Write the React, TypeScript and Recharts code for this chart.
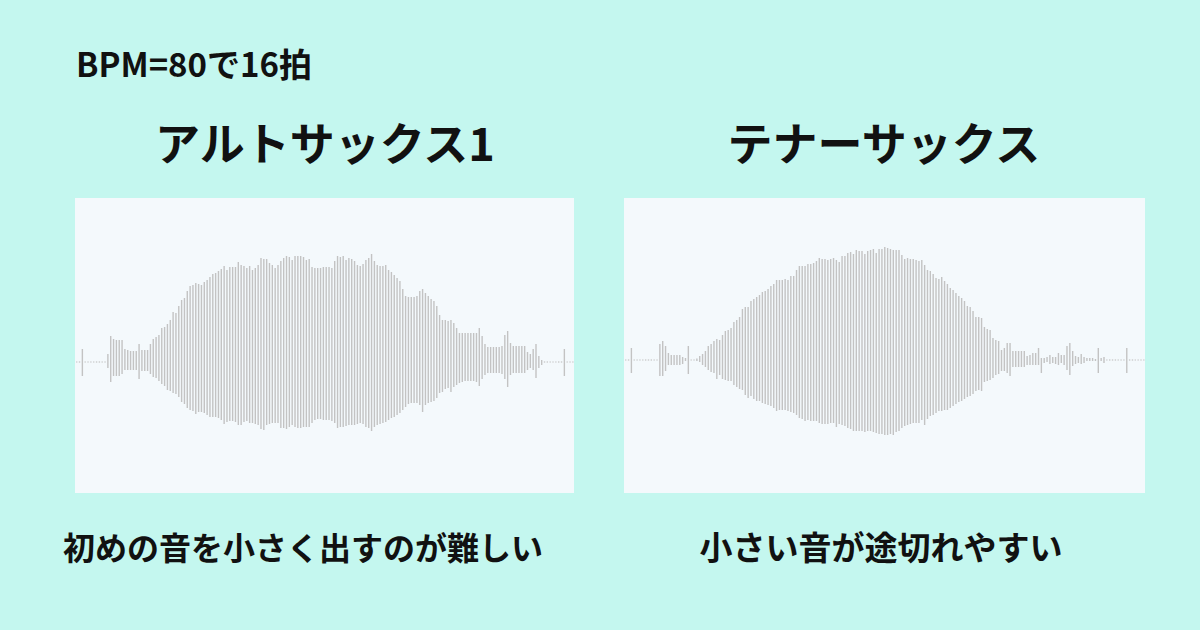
import { BarChart, Bar, XAxis, YAxis } from 'recharts';

// amplitudes in px above / below the centre line, one value per slot (~2.84px)
const ALTO_LEAD_UP = [0.6, 0.6, 13, 0.6, 0.6, 0.6, 0.6, 0.6, 0.6, 0.6, 0.6];
const ALTO_LEAD_DOWN = [0.6, 0.6, 14, 0.6, 0.6, 0.6, 0.6, 0.6, 0.6, 0.6, 0.6];

const ALTO_UP = [
  8, 26, 23, 22, 22, 22, 13, 12, 11, 11,
  11, 18, 12, 12, 12, 18, 23, 25, 27, 34,
  35, 38, 42, 50, 49, 56, 62, 64, 71, 76,
  77, 79, 78, 77, 80, 82, 85, 88, 89, 91,
  93, 96, 92, 95, 95, 95, 100, 97, 96, 94,
  96, 92, 94, 97, 104, 103, 103, 99, 97, 94,
  97, 101, 104, 106, 105, 102, 106, 106, 106, 105,
  102, 103, 95, 94, 94,
  94, 95, 95, 95, 94, 101, 106, 105, 106, 102,
  104, 103, 101, 97, 96, 98, 102, 104, 108, 101,
  97, 96, 96, 97, 92, 90, 87, 84, 81, 73,
  66, 65, 65, 65, 66, 71, 73, 69, 66, 63,
  61, 56, 47, 42, 42, 41, 42, 39, 34, 29,
  29, 29, 29, 29, 29, 29, 34, 26, 18, 15,
  15, 15, 15, 15, 16, 27, 31, 19, 16, 16,
  16, 16, 16, 10, 8, 13, 18, 6, 2,
];

const ALTO_DOWN = [
  6, 20, 14, 14, 14, 12, 8, 8, 8, 8,
  8, 17, 9, 9, 9, 12, 15, 16, 19, 22,
  24, 28, 29, 31, 32, 35, 40, 42, 46, 48,
  49, 52, 50, 50, 51, 53, 55, 55, 55, 56,
  58, 62, 60, 59, 59, 60, 63, 63, 60, 59,
  61, 61, 62, 63, 67, 68, 63, 62, 61, 61,
  61, 66, 66, 67, 65, 63, 65, 66, 66, 65,
  65, 65, 61, 58, 57, 57, 58, 58, 58, 59,
  61, 66, 65, 65, 64, 63, 63, 63, 62, 61,
  62, 65, 66, 69, 65, 63, 62, 61, 60, 58,
  56, 55, 53, 51, 48, 45, 42, 41, 41, 41,
  43, 50, 43, 41, 40, 39, 36, 31, 30, 27,
  26, 30, 25, 23, 21, 20, 19, 19, 19, 19,
  20, 24, 17, 13, 11, 11, 11, 11, 11, 12,
  17, 25, 13, 11, 11, 11, 11, 11, 8, 6,
  8, 16, 6, 3,
];

const ALTO_TRAIL_UP = [0.6, 0.6, 0.6, 0.6, 0.6, 0.6, 0.6, 13, 0.6, 0.6, 0.6];
const ALTO_TRAIL_DOWN = [0.6, 0.6, 0.6, 0.6, 0.6, 0.6, 0.6, 14, 0.6, 0.6, 0.6];

const TENOR_LEAD_UP = [0.6, 0.6, 12, 0.6, 0.6, 0.6, 0.6, 0.6, 0.6, 0.6, 0.6, 0.6];
const TENOR_LEAD_DOWN = [0.6, 0.6, 13, 0.6, 0.6, 0.6, 0.6, 0.6, 0.6, 0.6, 0.6, 0.6];

const TENOR_UP = [
  16, 19, 14, 7, 5, 5, 5, 5, 3, 2,
  14, 0.6, 0.6, 1.5, 4, 6, 9, 14, 16, 19,
  21, 20, 25, 29, 30, 32, 38, 40, 43, 51,
  53, 53, 59, 61, 63, 65, 68, 69, 71, 74,
  76, 80, 80, 80, 81, 80, 84, 84, 90, 94,
  94, 94, 96, 96, 97, 99, 102, 101, 101, 100,
  101, 102, 100, 98, 104, 104, 107, 108, 106, 110,
  109, 109, 106, 109, 110, 111, 107, 111, 111,
  113, 112, 111, 110, 110, 110, 105, 101, 102, 101,
  101, 100, 99, 100, 95, 90, 89, 86, 82, 81,
  83, 79, 76, 72, 70, 67, 64, 62, 59, 54,
  53, 49, 43, 43, 42, 33, 31, 30, 22, 20,
  19, 10, 12, 17, 17, 9, 9, 9, 9, 9,
  4, 5, 7, 7, 12, 2, 2, 3, 5, 3,
  3, 7, 5, 5, 14, 17, 9, 4, 3, 6,
  3, 2, 2, 2, 1, 12, 2, 3, 0.6, 0.6,
  0.6, 0.6, 0.6, 0.6, 0.6, 12, 0.6, 0.6, 0.6, 0.6,
  0.6, 0.6,
];

const TENOR_DOWN = [
  16, 16, 11, 5, 5, 5, 5, 5, 4, 1,
  14, 0.6, 0.6, 1, 2, 5, 7, 10, 12, 13,
  19, 15, 19, 20, 21, 21, 25, 27, 29, 30,
  35, 38, 36, 39, 41, 41, 43, 44, 45, 46,
  48, 51, 50, 50, 50, 51, 52, 53, 55, 58,
  59, 61, 60, 61, 61, 61, 63, 64, 64, 64,
  63, 63, 67, 64, 65, 66, 68, 69, 71, 71,
  71, 71, 72, 71, 71, 72, 73, 74, 74, 75,
  75, 74, 75, 72, 71, 68, 66, 65, 64, 63,
  63, 63, 60, 65, 59, 56, 55, 53, 51, 51,
  50, 50, 48, 46, 44, 42, 41, 39, 37, 36,
  34, 31, 30, 31, 22, 21, 20, 18, 15, 14,
  11, 11, 13, 16, 7, 7, 7, 7, 7, 5,
  5, 5, 5, 5, 13, 3, 2, 4, 3, 4,
  5, 3, 5, 10, 15, 6, 4, 3, 4, 3,
  1, 1, 1, 1, 13, 1, 3, 0.6, 0.6, 0.6,
  0.6, 0.6, 0.6, 0.6, 13, 0.6, 0.6, 0.6, 0.6, 0.6,
  0.6,
];

const HEADER = 'BPM=80で16拍';
const TITLES = ['アルトサックス1', 'テナーサックス'];
const CAPTIONS = ['初めの音を小さく出すのが難しい', '小さい音が途切れやすい'];

const FONT = '"Noto Sans CJK JP", "Noto Sans", sans-serif';

function toRows(up: number[], down: number[]) {
  return up.map((u, k) => ({ k, range: [-down[k], u] }));
}

function Wave({ up, down, width, height, domain }: {
  up: number[]; down: number[]; width: number; height: number; domain: [number, number];
}) {
  return (
    <BarChart width={width} height={height} data={toRows(up, down)}
      margin={{ top: 0, right: 0, bottom: 0, left: 0 }}>
      <XAxis dataKey="k" hide />
      <YAxis hide domain={domain} allowDataOverflow />
      <Bar dataKey="range" fill="#c3c3c3" barSize={1.4} isAnimationActive={false} />
    </BarChart>
  );
}

const text = (extra: React.CSSProperties): React.CSSProperties => ({
  position: 'absolute', fontFamily: FONT, fontWeight: 700, color: '#111',
  lineHeight: 1, whiteSpace: 'nowrap', ...extra,
});

export default function App() {
  const altoUp = [...ALTO_LEAD_UP, ...ALTO_UP, ...ALTO_TRAIL_UP];
  const altoDown = [...ALTO_LEAD_DOWN, ...ALTO_DOWN, ...ALTO_TRAIL_DOWN];
  const tenorUp = [...TENOR_LEAD_UP, ...TENOR_UP];
  const tenorDown = [...TENOR_LEAD_DOWN, ...TENOR_DOWN];

  return (
    <div style={{ position: 'fixed', left: 0, top: 0, width: 1200, height: 630, background: '#c4f7ef', overflow: 'hidden' }}>
      <div style={text({ left: 76, top: 47, fontSize: 33 })}>{HEADER}</div>

      <div style={text({ left: 325, top: 119, fontSize: 45, transform: 'translateX(-50%)' })}>{TITLES[0]}</div>
      <div style={text({ left: 884, top: 119, fontSize: 45, transform: 'translateX(-50%)' })}>{TITLES[1]}</div>

      <div style={{ position: 'absolute', left: 74.7, top: 198, width: 499, height: 295, background: '#f4f9fc' }}>
        <Wave up={altoUp} down={altoDown} width={499} height={295} domain={[-131, 164]} />
      </div>
      <div style={{ position: 'absolute', left: 624, top: 198, width: 521, height: 295, background: '#f4f9fc' }}>
        <Wave up={tenorUp} down={tenorDown} width={521} height={295} domain={[-133, 162]} />
      </div>

      <div style={text({ left: 303, top: 530, fontSize: 32, transform: 'translateX(-50%)' })}>{CAPTIONS[0]}</div>
      <div style={text({ left: 881, top: 530, fontSize: 33, transform: 'translateX(-50%)' })}>{CAPTIONS[1]}</div>
    </div>
  );
}
